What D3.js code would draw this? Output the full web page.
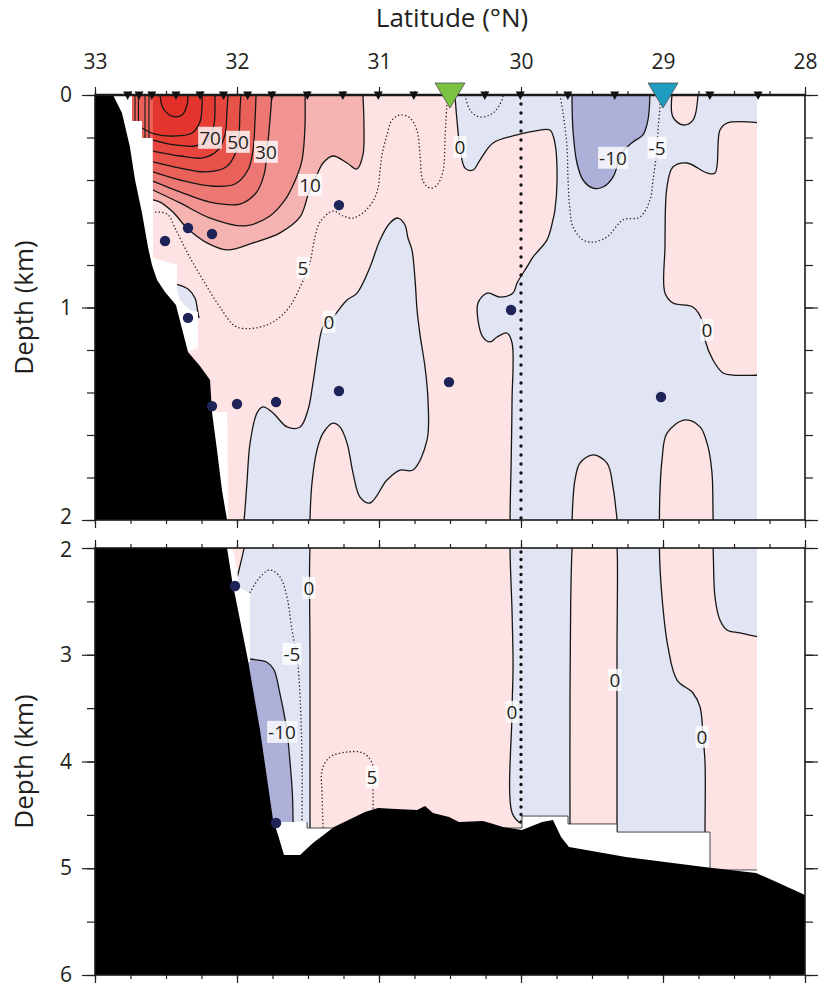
<!DOCTYPE html>
<html>
<head>
<meta charset="utf-8">
<script src="https://cdn.jsdelivr.net/npm/d3@7/dist/d3.min.js"></script>
<style>
  html, body { margin: 0; padding: 0; background: #fff; }
  svg text { font-family: "Open Sans", "Noto Sans", "DejaVu Sans", sans-serif; fill: #231f20; }
</style>
</head>
<body>
<svg id="chart" width="818" height="988"></svg>
<script>
// ---------------- data (latitude °N, depth km) ----------------
const latTicks = [33, 32, 31, 30, 29, 28];
const depthTicksUpper = [0, 1, 2];
const depthTicksLower = [2, 3, 4, 5, 6];

// CTD stations along the section, and the two highlighted sites
const stationLats = [32.77, 32.69, 32.6, 32.43, 32.26, 32.095, 31.925, 31.755, 31.505, 31.255,
                     31.005, 30.755, 30.255, 30.005, 29.67, 29.34, 28.67, 28.33];
const markerLats = [30.5, 29.0];

// discrete sample positions
const samples = [[32.507, 0.687], [32.345, 0.626], [32.176, 0.654], [31.282, 0.518], [32.345, 1.049],
                 [32.176, 1.464], [32.0, 1.454], [31.725, 1.445], [31.282, 1.393], [30.507, 1.351],
                 [30.07, 1.012], [29.014, 1.421], [32.014, 2.356], [31.725, 4.576]];

// extent of gridded section (stations down to their deepest bottle)
const dataExtent = [[32.739, 0], [28.338, 0], [28.338, 5.016], [28.669, 5.016], [28.669, 4.661],
  [29.324, 4.661], [29.324, 4.585], [29.669, 4.585], [29.669, 4.511], [29.993, 4.511], [29.993, 4.623],
  [31.507, 4.623], [31.507, 4.567], [31.824, 4.567], [31.979, 3.068], [31.908, 3.068], [31.908, 2.422],
  [31.979, 2.375], [32.028, 2.019], [32.063, 2.0], [32.07, 1.492], [32.225, 1.492], [32.296, 1.318],
  [32.366, 1.209], [32.275, 1.191], [32.275, 1.021], [32.331, 1.012], [32.401, 0.965], [32.423, 0.918],
  [32.423, 0.8], [32.592, 0.767], [32.592, 0.202], [32.669, 0.202], [32.669, 0.122], [32.739, 0.122]];

// sea floor
const bathymetry = [[33, 0], [32.873, 0], [32.81, 0.085], [32.754, 0.245], [32.718, 0.4], [32.669, 0.555],
  [32.627, 0.715], [32.599, 0.8], [32.563, 0.871], [32.507, 0.927], [32.43, 0.988], [32.394, 1.082],
  [32.345, 1.209], [32.261, 1.275], [32.19, 1.341], [32.176, 1.492], [32.141, 1.671], [32.106, 1.859],
  [32.07, 2.0], [32.035, 2.3], [31.979, 2.674], [31.923, 3.049], [31.838, 3.705], [31.746, 4.548],
  [31.711, 4.689], [31.669, 4.876], [31.556, 4.876], [31.465, 4.763], [31.317, 4.614], [31.099, 4.473],
  [31.007, 4.436], [30.88, 4.445], [30.732, 4.454], [30.676, 4.417], [30.62, 4.482], [30.507, 4.52],
  [30.437, 4.567], [30.268, 4.557], [30.218, 4.576], [30.127, 4.614], [29.993, 4.642], [29.852, 4.567],
  [29.775, 4.548], [29.718, 4.707], [29.662, 4.801], [29.261, 4.895], [28.711, 4.988], [28.345, 5.044],
  [28.232, 5.11], [28.0, 5.251], [28.0, 6], [33, 6]];

// ---- zero contours ----
const zeroMain = [[30.465, 0], [30.451, 0.118], [30.43, 0.245], [30.394, 0.344], [30.338, 0.353],
  [30.289, 0.306], [30.197, 0.226], [30.028, 0.188], [29.866, 0.165], [29.796, 0.165], [29.761, 0.226],
  [29.746, 0.4], [29.761, 0.541], [29.775, 0.588], [29.817, 0.682], [29.915, 0.762], [29.958, 0.809],
  [30.028, 0.885], [30.056, 0.932], [30.148, 0.951], [30.239, 0.932], [30.303, 0.979], [30.303, 1.059],
  [30.268, 1.139], [30.218, 1.162], [30.169, 1.139], [30.099, 1.12], [30.063, 1.167], [30.063, 1.435],
  [30.07, 1.751], [30.077, 2.0], [30.063, 2.6], [30.056, 3.1], [30.063, 3.54], [30.063, 4.48], [30.007, 4.576]];
const zeroMainClose = [[30.0, 5.4], [28.2, 5.4], [28.2, -0.05], [30.465, -0.05]];

const zeroWest = [[32.014, 2.356], [31.986, 2.206], [31.95, 2.0], [31.93, 1.826], [31.908, 1.638],
  [31.859, 1.496], [31.817, 1.468], [31.746, 1.496], [31.648, 1.562], [31.556, 1.562], [31.5, 1.482],
  [31.465, 1.355], [31.43, 1.2], [31.394, 1.092], [31.324, 1.045], [31.225, 0.965], [31.155, 0.932],
  [31.063, 0.809], [30.993, 0.682], [30.923, 0.602], [30.866, 0.579], [30.817, 0.612], [30.796, 0.673],
  [30.768, 0.729], [30.746, 0.871], [30.732, 1.012], [30.711, 1.129], [30.676, 1.28], [30.655, 1.435],
  [30.662, 1.624], [30.761, 1.765], [30.852, 1.765], [30.944, 1.812], [31.063, 1.92], [31.134, 1.892],
  [31.183, 1.779], [31.225, 1.638], [31.275, 1.562], [31.324, 1.544], [31.394, 1.591], [31.437, 1.671],
  [31.472, 1.826], [31.486, 2.0], [31.486, 3.0], [31.486, 4.0], [31.486, 4.65]];
const zeroWestClose = [[31.486, 4.8], [31.95, 4.8]];

const zeroSlope = [[32.437, 0.889], [32.345, 0.913], [32.296, 0.955], [32.278, 1.012], [32.268, 1.05]];
const zeroSlopeClose = [[32.5, 1.05], [32.5, 0.889]];

const zeroCapTop = [[28.937, 0], [28.93, 0.104], [28.859, 0.141], [28.789, 0.118], [28.754, 0]];
const zeroCapTopClose = [[28.754, -0.05], [28.937, -0.05]];

const zeroEast = [[28.30, 0.132], [28.549, 0.132], [28.599, 0.165], [28.634, 0.367], [28.69, 0.367],
  [28.831, 0.32], [28.93, 0.339], [28.972, 0.433], [28.986, 0.715], [28.986, 0.932], [28.93, 0.979],
  [28.789, 0.998], [28.718, 1.073], [28.704, 1.153], [28.648, 1.247], [28.577, 1.308], [28.507, 1.318],
  [28.30, 1.318]];

const zeroDomeA = [[29.655, 4.7], [29.655, 3.5], [29.65, 2.5], [29.64, 2.0], [29.634, 1.906], [29.62, 1.812],
  [29.585, 1.732], [29.493, 1.694], [29.394, 1.732], [29.352, 1.845], [29.331, 1.953], [29.324, 2.0],
  [29.324, 3.0], [29.324, 4.7]];

const zeroDomeB = [[28.704, 5.2], [28.704, 4.64], [28.704, 4.014], [28.718, 3.77], [28.739, 3.489],
  [28.789, 3.358], [28.901, 3.237], [28.965, 2.927], [29.007, 2.459], [29.025, 2.0], [29.021, 1.859],
  [29.007, 1.718], [28.972, 1.591], [28.845, 1.529], [28.739, 1.562], [28.683, 1.656], [28.655, 1.779],
  [28.648, 1.95], [28.645, 2.1], [28.634, 2.459], [28.599, 2.674], [28.549, 2.768], [28.458, 2.796],
  [28.30, 2.84]];
const zeroDomeBClose = [[28.30, 5.2]];

// ---- negative contours ----
const minus10Upper = [[29.641, 0], [29.634, 0.165], [29.606, 0.32], [29.563, 0.4], [29.493, 0.438],
  [29.423, 0.433], [29.352, 0.386], [29.289, 0.273], [29.211, 0.221], [29.141, 0.188], [29.106, 0.118], [29.092, 0]];
const minus10UpperClose = [[29.092, -0.05], [29.641, -0.05]];

const minus10Lower = [[31.93, 3.04], [31.85, 3.05], [31.789, 3.07], [31.74, 3.14], [31.70, 3.35],
  [31.65, 3.70], [31.627, 4.0], [31.61, 4.3], [31.605, 4.6]];
const minus10LowerClose = [[31.70, 4.7], [32.0, 4.7], [32.0, 3.04]];

const minus5A = [[29.725, 0], [29.704, 0.085], [29.676, 0.245], [29.669, 0.4], [29.655, 0.541],
  [29.634, 0.621], [29.563, 0.682], [29.493, 0.692], [29.394, 0.668], [29.282, 0.588], [29.162, 0.574],
  [29.092, 0.494], [29.07, 0.4], [29.042, 0.25], [29.035, 0.165], [29.021, 0.056], [29.014, 0]];
const minus5B = [[30.394, 0], [30.359, 0.071], [30.289, 0.104], [30.197, 0.085], [30.134, 0.024], [30.127, 0]];
const minus5Lower = [[31.91, 2.42], [31.838, 2.272], [31.768, 2.206], [31.697, 2.272], [31.648, 2.459],
  [31.613, 2.768], [31.577, 3.021], [31.556, 3.396], [31.542, 3.986], [31.542, 4.6]];

// ---- positive contours ----
const plus5 = [[32.577, 0.551], [32.493, 0.56], [32.43, 0.635], [32.345, 0.748], [32.239, 0.871],
  [32.12, 0.998], [32.0, 1.092], [31.789, 1.082], [31.648, 1.012], [31.556, 0.904], [31.486, 0.786],
  [31.451, 0.668], [31.415, 0.598], [31.324, 0.546], [31.254, 0.569], [31.183, 0.579], [31.113, 0.555],
  [31.042, 0.499], [31.007, 0.438], [30.993, 0.358], [30.979, 0.282], [30.944, 0.188], [30.908, 0.118],
  [30.852, 0.094], [30.782, 0.108], [30.732, 0.169], [30.711, 0.282], [30.69, 0.405], [30.641, 0.438],
  [30.592, 0.424], [30.549, 0.358], [30.535, 0.202], [30.521, 0.014], [30.521, 0]];
const plus5Lower = [[31.394, 4.62], [31.401, 4.3], [31.401, 4.08], [31.345, 3.958], [31.225, 3.911],
  [31.113, 3.92], [31.049, 4.014], [31.042, 4.267], [31.042, 4.62]];

const redLevels = [10, 20, 30, 40, 50, 60, 70, 80, 90];
const plus10 = [[32.592, 0.494], [32.542, 0.504], [32.451, 0.551], [32.352, 0.626], [32.211, 0.696],
  [32.07, 0.729], [31.887, 0.696], [31.697, 0.649], [31.556, 0.574], [31.5, 0.471], [31.472, 0.424],
  [31.437, 0.376], [31.394, 0.32], [31.324, 0.287], [31.225, 0.32], [31.155, 0.348], [31.113, 0.282],
  [31.106, 0.141], [31.113, 0]];
const plus20 = [[32.592, 0.447], [32.401, 0.508], [32.19, 0.579], [31.944, 0.616], [31.768, 0.569],
  [31.662, 0.494], [31.592, 0.405], [31.542, 0.306], [31.521, 0.141], [31.521, 0]];
const plus30 = [[32.592, 0.405], [32.401, 0.456], [32.19, 0.504], [31.979, 0.513], [31.866, 0.461],
  [31.81, 0.376], [31.789, 0.268], [31.768, 0.118], [31.754, 0]];
const plus40 = [[32.592, 0.362], [32.401, 0.4], [32.19, 0.428], [32.014, 0.419], [31.923, 0.353],
  [31.887, 0.259], [31.873, 0.118], [31.866, 0]];
const plus50 = [[32.592, 0.315], [32.401, 0.344], [32.225, 0.362], [32.077, 0.339], [32.007, 0.268],
  [31.986, 0.188], [31.979, 0.071], [31.972, 0]];
const plus60 = [[32.592, 0.264], [32.401, 0.287], [32.239, 0.296], [32.134, 0.259], [32.085, 0.188],
  [32.07, 0.071], [32.063, 0]];
const plus70 = [[32.592, 0.212], [32.437, 0.235], [32.296, 0.24], [32.204, 0.212], [32.162, 0.141],
  [32.155, 0.047], [32.155, 0]];
const plus80 = [[32.669, 0.155], [32.577, 0.184], [32.437, 0.193], [32.317, 0.179], [32.261, 0.127],
  [32.246, 0.047], [32.246, 0]];
const plus90 = [[32.542, 0], [32.521, 0.061], [32.458, 0.099], [32.387, 0.094], [32.352, 0.047], [32.345, 0]];
const redContours = [plus10, plus20, plus30, plus40, plus50, plus60, plus70, plus80, plus90];

// tightly packed isolines on the upper slope: [latitude, lower depth]
const slopeStripes = [[32.718, 0.122], [32.694, 0.122], [32.648, 0.202], [32.62, 0.202]];
const slopeStripeBox = [[32.75, -0.01], [32.75, 0.21], [32.592, 0.21], [32.592, -0.01]];

// contour labels
const labelText  = ["70", "50", "30", "10", "5", "0", "0", "-10", "-5", "0",
                    "0", "-5", "-10", "5", "0", "0", "0"];
const labelLat   = [32.19, 31.993, 31.796, 31.486, 31.535, 31.352, 30.43, 29.352, 29.042, 28.69,
                    31.493, 31.613, 31.683, 31.049, 30.063, 29.338, 28.725];
const labelDepth = [0.202, 0.221, 0.268, 0.424, 0.814, 1.068, 0.245, 0.296, 0.249, 1.106,
                    2.375, 2.993, 3.724, 4.145, 3.536, 3.237, 3.77];

// ---------------- drawing ----------------
const PINK = "#fde3e3", BLUE = "#e1e4f2", BLUE_DARK = "#adb0d8";
const redColors = ["#f5b3b1", "#f19391", "#ed7772", "#ea615a", "#e85249", "#e6463e", "#e53d34", "#e3352d", "#e12f27"];

const svg = d3.select("#chart");
const defs = svg.append("defs");
const x = d3.scaleLinear().domain([33, 28]).range([95, 805]);

const panels = [
  { id: "upper", y: d3.scaleLinear().domain([0, 2]).range([95, 520]), ticks: depthTicksUpper, minor: 0.2, dot: 9 },
  { id: "lower", y: d3.scaleLinear().domain([2, 6]).range([548, 975]), ticks: depthTicksLower, minor: 0.5, dot: 7.5 }
];

function smoothPath(y, pts, closers) {
  const line = d3.line().x(p => x(p[0])).y(p => y(p[1])).curve(d3.curveCatmullRom.alpha(0.5));
  let d = line(pts);
  if (closers) d += closers.map(p => `L${x(p[0])},${y(p[1])}`).join("") + "Z";
  return d;
}
function polyPath(y, pts, closed = true) {
  return d3.line().x(p => x(p[0])).y(p => y(p[1]))(pts) + (closed ? "Z" : "");
}

const FONT = '"Open Sans", "Noto Sans", sans-serif';

panels.forEach(p => {
  const y = p.y;
  const [y0, y1] = y.range();
  defs.append("clipPath").attr("id", `clip-${p.id}`)
    .append("rect").attr("x", 95).attr("y", y0).attr("width", 710).attr("height", y1 - y0);
  defs.append("clipPath").attr("id", `data-${p.id}`)
    .append("path").attr("d", polyPath(y, dataExtent));

  const g = svg.append("g").attr("clip-path", `url(#clip-${p.id})`);
  const gd = g.append("g").attr("clip-path", `url(#data-${p.id})`);

  // base (0..10) field
  gd.append("path").attr("d", polyPath(y, dataExtent)).attr("fill", PINK);

  // negative areas
  const fill = (pts, close, color) => gd.append("path").attr("d", smoothPath(y, pts, close)).attr("fill", color);
  fill(zeroMain, zeroMainClose, BLUE);
  fill(zeroWest, zeroWestClose, BLUE);
  fill(zeroSlope, zeroSlopeClose, BLUE);
  // positive pockets inside the negative areas
  fill(zeroCapTop, zeroCapTopClose, PINK);
  fill(zeroEast, [], PINK);
  fill(zeroDomeA, [], PINK);
  fill(zeroDomeB, zeroDomeBClose, PINK);
  // below -10
  fill(minus10Upper, minus10UpperClose, BLUE_DARK);
  fill(minus10Lower, minus10LowerClose, BLUE_DARK);

  // warm core
  redContours.forEach((c, i) => {
    const first = c[0], last = c[c.length - 1];
    fill(c, [[last[0], -0.05], [32.8, -0.05], [32.8, first[1]]], redColors[i]);
  });
  gd.append("path").attr("d", polyPath(y, slopeStripeBox)).attr("fill", "#ec625b");

  // isolines
  const solid = [zeroMain, zeroWest, zeroSlope, zeroCapTop, zeroEast, zeroDomeA, zeroDomeB,
                 minus10Upper, minus10Lower, ...redContours];
  solid.forEach(c => gd.append("path").attr("d", smoothPath(y, c)).attr("fill", "none")
    .attr("stroke", "#161616").attr("stroke-width", 1.3));
  slopeStripes.forEach(s => gd.append("line")
    .attr("x1", x(s[0])).attr("x2", x(s[0])).attr("y1", y(0)).attr("y2", y(s[1]))
    .attr("stroke", "#161616").attr("stroke-width", 1.1));
  [plus5, plus5Lower, minus5A, minus5B, minus5Lower].forEach(c => gd.append("path")
    .attr("d", smoothPath(y, c)).attr("fill", "none").attr("stroke", "#222")
    .attr("stroke-width", 1.3).attr("stroke-dasharray", "1.3 2.3"));

  // 30°N reference line
  gd.append("line").attr("x1", x(30)).attr("x2", x(30)).attr("y1", y(0)).attr("y2", y(4.6))
    .attr("stroke", "#111").attr("stroke-width", 3.4).attr("stroke-linecap", "round")
    .attr("stroke-dasharray", `0 ${p.dot}`);

  // floor of the gridded section
  g.append("path").attr("d", polyPath(y, dataExtent.slice(2, 13), false))
    .attr("fill", "none").attr("stroke", "#333").attr("stroke-width", 0.9);

  // sea floor
  g.append("path").attr("d", polyPath(y, bathymetry)).attr("fill", "#000");

  // samples
  g.selectAll("circle.s").data(samples).join("circle").attr("class", "s")
    .attr("cx", d => x(d[0])).attr("cy", d => y(d[1])).attr("r", 5.2).attr("fill", "#1e2358");

  // contour labels
  labelText.forEach((t, i) => {
    const d = labelDepth[i];
    if (d < y.domain()[0] || d > y.domain()[1]) return;
    const lg = g.append("g").attr("transform", `translate(${x(labelLat[i])},${y(d)})`);
    const txt = lg.append("text").attr("text-anchor", "middle").attr("dy", "0.36em")
      .attr("font-size", 19).text(t);
    const bb = txt.node().getBBox();
    lg.insert("rect", "text").attr("x", bb.x - 1).attr("y", bb.y + 2).attr("width", bb.width + 2)
      .attr("height", bb.height - 4).attr("fill", "#fff").attr("fill-opacity", 0.8);
  });

  // frame and axes
  const ax = svg.append("g").attr("class", "axes");
  const minorLat = d3.range(0, 21).map(k => 33 - k * 0.25);
  const [d0, d1] = y.domain();
  const minorDepth = d3.range(0, Math.round((d1 - d0) / p.minor) + 1).map(k => +(d0 + k * p.minor).toFixed(2));

  const styleAxis = sel => {
    sel.select(".domain").remove();
    sel.selectAll(".tick line").attr("stroke", "#231f20").attr("stroke-width", 1.2);
    sel.selectAll(".tick text").attr("font-size", 21).attr("fill", "#231f20").attr("font-family", FONT);
  };
  const isTop = p.id === "upper";
  ax.append("g").attr("transform", `translate(0,${y0})`)
    .call(d3.axisTop(x).tickValues(minorLat).tickSize(4).tickFormat("")).call(styleAxis);
  ax.append("g").attr("transform", `translate(0,${y0})`)
    .call(d3.axisTop(x).tickValues(latTicks).tickSize(8).tickPadding(18)
      .tickFormat(isTop ? d3.format("d") : "")).call(styleAxis);
  ax.append("g").attr("transform", `translate(0,${y1})`)
    .call(d3.axisBottom(x).tickValues(minorLat).tickSize(4).tickFormat("")).call(styleAxis);
  ax.append("g").attr("transform", `translate(0,${y1})`)
    .call(d3.axisBottom(x).tickValues(latTicks).tickSize(8).tickFormat("")).call(styleAxis);
  ax.append("g").attr("transform", "translate(95,0)")
    .call(d3.axisLeft(y).tickValues(minorDepth).tickSize(8).tickFormat("")).call(styleAxis);
  const left = ax.append("g").attr("transform", "translate(95,0)")
    .call(d3.axisLeft(y).tickValues(p.ticks).tickSize(13).tickPadding(10).tickFormat(d3.format("d"))).call(styleAxis);
  // keep the two "2" labels at the panel break clear of each other
  left.selectAll(".tick text").filter(v => v === 2).attr("y", isTop ? -3 : 2);
  ax.append("g").attr("transform", "translate(805,0)")
    .call(d3.axisRight(y).tickValues(minorDepth).tickSize(8).tickFormat("")).call(styleAxis);
  ax.append("g").attr("transform", "translate(805,0)")
    .call(d3.axisRight(y).tickValues(p.ticks).tickSize(13).tickFormat("")).call(styleAxis);

  ax.append("rect").attr("x", 95).attr("y", y0).attr("width", 710).attr("height", y1 - y0)
    .attr("fill", "none").attr("stroke", "#1a1a1a").attr("stroke-width", 1.6);

  ax.append("text").attr("transform", `translate(33,${(y0 + y1) / 2}) rotate(-90)`)
    .attr("text-anchor", "middle").attr("font-size", 26).text("Depth (km)");
});

// heavy sea-surface line
svg.append("line").attr("x1", 95).attr("x2", 805).attr("y1", 95).attr("y2", 95)
  .attr("stroke", "#1a1a1a").attr("stroke-width", 2.6);

// station ticks along the surface
svg.selectAll("path.stn").data(stationLats).join("path").attr("class", "stn")
  .attr("transform", d => `translate(${x(d)},95)`).attr("d", "M-4.5,-3.5L4.5,-3.5L0,5Z").attr("fill", "#111");

// highlighted sites
const markerColors = ["#7cc242", "#1f9dc0"];
svg.selectAll("path.site").data(markerLats).join("path").attr("class", "site")
  .attr("transform", d => `translate(${x(d)},95)`).attr("d", "M-15,-12L15,-12L0,13Z")
  .attr("fill", (d, i) => markerColors[i]).attr("stroke", "#4d4d4d").attr("stroke-width", 0.8);

svg.append("text").attr("x", 452).attr("y", 27).attr("text-anchor", "middle")
  .attr("font-size", 26).text("Latitude (°N)");
</script>
</body>
</html>
